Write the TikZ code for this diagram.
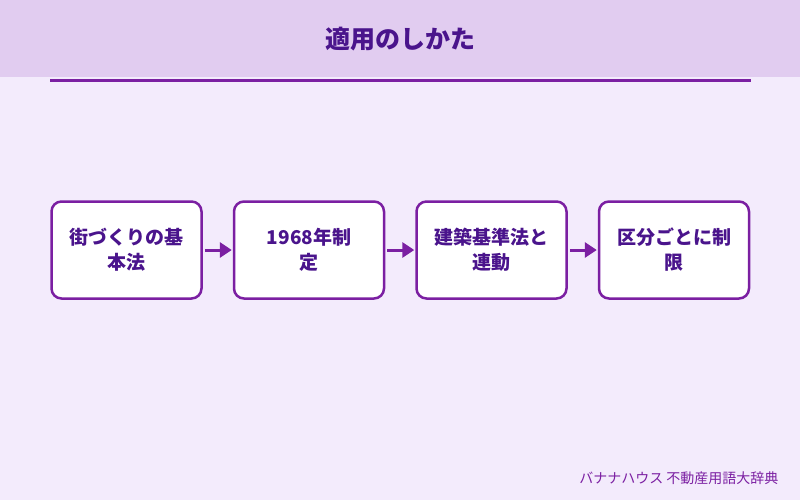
\documentclass[tikz,border=0pt]{standalone}
\usepackage{fontspec}
\setmainfont{Noto Sans CJK JP}
\usetikzlibrary{arrows.meta,positioning}
\definecolor{BananaPurple}{HTML}{7B1FA2}
\definecolor{BananaDeep}{HTML}{4A148C}
\definecolor{BananaBand}{HTML}{E1CCF0}
\definecolor{BananaBack}{HTML}{F3EBFC}

\begin{document}
\begin{tikzpicture}[
    x=1pt, y=-1pt,
    node distance=30pt,
    stepbox/.style={draw=BananaPurple, line width=2.5pt, rounded corners=10pt, fill=white,
      minimum width=150pt, minimum height=97pt, align=center, text=BananaDeep,
      font=\fontsize{19}{25}\selectfont\bfseries},
    arr/.style={-{Triangle[length=12pt,width=15pt]}, line width=3pt, color=BananaPurple,
      shorten <=2pt, shorten >=1pt}
  ]
    \fill[BananaBack] (0,0) rectangle (800,500);
    \useasboundingbox (0,0) rectangle (800,500);
    \fill[BananaBand] (0,0) rectangle (800,77);
    \draw[BananaPurple, line width=2.2pt] (50,80.5) -- (751,80.5);
    \node[font=\fontsize{25}{30}\selectfont\bfseries, text=BananaDeep] (title) at (400,39) {適用のしかた};
    \node[stepbox] (plan) at (126.5,250) {街づくりの基\\本法};
    \node[stepbox, right=of plan] (year) {1968年制\\定};
    \node[stepbox, right=of year] (build) {建築基準法と\\連動};
    \node[stepbox, right=of build] (zone) {区分ごとに制\\限};
    \node[anchor=east, font=\fontsize{14}{16}\selectfont, text=BananaPurple] (credit) at (782,478) {バナナハウス 不動産用語大辞典};
    \draw[arr] (plan) -- (year);
    \draw[arr] (year) -- (build);
    \draw[arr] (build) -- (zone);
  \end{tikzpicture}
\end{document}
